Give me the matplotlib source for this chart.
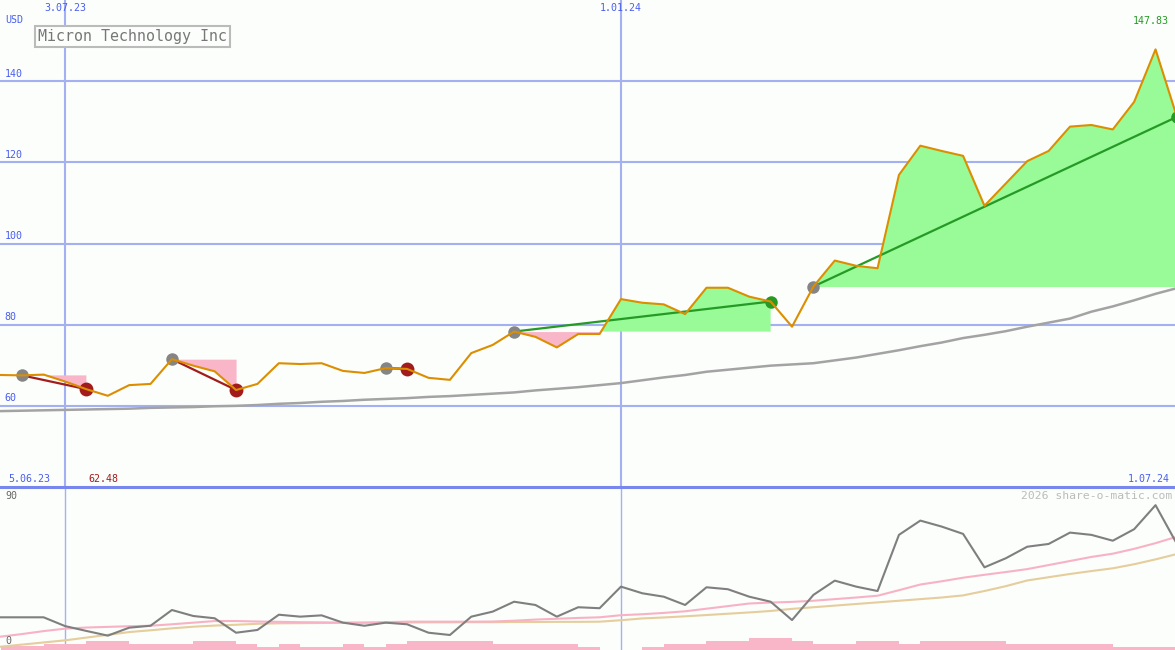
import numpy as np
import matplotlib.pyplot as plt
from matplotlib.lines import Line2D
from matplotlib.transforms import blended_transform_factory

W, H = 1175, 650

# weekly close, USD
price = [67.6, 67.5, 67.7, 66.0, 64.1, 62.48, 65.1, 65.4, 71.5, 69.9, 68.5, 63.9,
         65.4, 70.5, 70.3, 70.5, 68.6, 68.1, 69.3, 69.1, 66.9, 66.4, 73.0, 75.0,
         78.3, 77.0, 74.4, 77.7, 77.7, 86.3, 85.4, 85.0, 82.6, 89.1, 89.1, 86.9,
         85.7, 79.5, 89.4, 95.8, 94.5, 93.9, 116.9, 124.1, 122.8, 121.6, 109.3, 114.8,
         120.3, 122.8, 128.8, 129.2, 128.1, 134.9, 147.83, 131.2]
# long moving average
ma_long = [58.7, 58.8, 58.9, 59.0, 59.1, 59.2, 59.3, 59.5, 59.6, 59.7, 59.9, 60.0,
           60.2, 60.5, 60.7, 61.0, 61.2, 61.5, 61.7, 61.9, 62.2, 62.4, 62.7, 63.0,
           63.3, 63.8, 64.2, 64.6, 65.1, 65.6, 66.3, 67.0, 67.6, 68.4, 68.9, 69.4,
           69.9, 70.2, 70.5, 71.2, 71.9, 72.8, 73.7, 74.7, 75.6, 76.7, 77.5, 78.4,
           79.5, 80.5, 81.5, 83.2, 84.5, 86.0, 87.6, 89.0]
# lower panel indicator
osc = [18.3, 18.3, 18.3, 12.9, 9.9, 7.0, 11.9, 13.1, 22.8, 19.1, 17.7, 8.8,
       10.5, 19.9, 18.7, 19.5, 15.0, 13.1, 15.0, 14.0, 8.8, 7.4, 18.7, 21.8,
       27.9, 25.9, 18.7, 24.5, 23.9, 37.2, 33.1, 31.0, 25.9, 36.8, 35.6, 31.0,
       27.9, 16.6, 32.1, 40.9, 37.2, 34.5, 69.1, 77.9, 74.2, 69.7, 49.1, 54.7,
       61.8, 63.5, 70.5, 69.1, 65.5, 72.6, 87.4, 63.5]
osc_fast = [6.4, 8.0, 9.8, 11.3, 12.0, 12.4, 12.8, 13.1, 14.0, 15.0, 16.0, 16.0,
            15.7, 15.5, 15.3, 15.2, 15.0, 15.0, 15.3, 15.6, 15.6, 15.6, 15.6, 15.7,
            16.2, 16.9, 17.4, 17.9, 18.3, 19.6, 20.2, 21.0, 22.0, 23.6, 25.2, 26.8,
            27.4, 27.8, 28.5, 29.5, 30.5, 31.6, 35.0, 38.5, 40.5, 42.7, 44.5, 46.2,
            48.0, 50.5, 53.0, 55.5, 57.5, 60.5, 64.0, 68.0]
osc_slow = [0.2, 1.5, 2.8, 4.1, 5.8, 7.5, 9.2, 10.3, 11.5, 12.5, 13.2, 13.7,
            14.3, 14.6, 14.7, 14.8, 14.9, 15.0, 15.0, 15.1, 15.2, 15.2, 15.3, 15.3,
            15.4, 15.4, 15.5, 15.5, 15.6, 16.5, 17.6, 18.2, 18.9, 19.7, 20.5, 21.3,
            22.2, 23.5, 24.5, 25.5, 26.5, 27.5, 28.5, 29.5, 30.5, 31.8, 34.5, 37.5,
            41.0, 43.0, 45.0, 46.8, 48.5, 51.0, 54.0, 57.3]
volume = [1.4, 1.4, 2, 2, 3, 3, 2, 2, 2, 3, 3, 2, 1, 2, 1, 1, 2, 1, 2, 3, 3, 3, 3,
          2, 2, 2, 2, 1, 0, 0, 1, 2, 2, 3, 3, 4, 4, 3, 2, 2, 3, 3, 2, 3, 3, 3, 3,
          2, 2, 2, 2, 2, 1, 1, 1, 1]
# (entry week, exit week)
signals = [(1, 4), (8, 11), (18, 19), (24, 36), (38, 55)]
grid_levels = [60, 80, 100, 120, 140]
date_marks = [(3, '3.07.23'), (29, '1.01.24')]
start_label, end_label = '5.06.23', '1.07.24'
name = 'Micron Technology Inc'

bg = '#fbfefb'
blue_txt = '#4a5ef0'
grid_c = '#a4b0f2'
mono = 'DejaVu Sans Mono'


def fx(px):
    return px / W


def fy(py):
    return 1 - py / H


x = np.arange(len(price))
p = np.array(price)

fig = plt.figure(figsize=(11.75, 6.5), dpi=100, facecolor=bg)
ax = fig.add_axes([0, fy(487), 1, 487 / H], facecolor=bg)
ax2 = fig.add_axes([0, 0, 1, fy(487)], facecolor=bg)
for a in (ax, ax2):
    a.set_xlim(-0.04, 54.91)
    a.set_xticks([])
    a.set_yticks([])
    for s in a.spines.values():
        s.set_visible(False)
ax.set_ylim(40, 160)
ax2.set_ylim(-1.85, 98.6)

for lv in grid_levels:
    ax.axhline(lv, color=grid_c, lw=1.5, zorder=1)
for i, lab in date_marks:
    ax.axvline(i, color=grid_c, lw=1.5, zorder=1)
    ax2.axvline(i, color=grid_c, lw=1.0, zorder=1)

# signal fills
for a_, b_ in signals:
    xs = x[a_:b_ + 1]
    ys = p[a_:b_ + 1]
    lvl = p[a_]
    ax.fill_between(xs, lvl, ys, where=ys >= lvl, interpolate=True,
                    color='#98fb98', lw=0, zorder=2)
    ax.fill_between(xs, lvl, ys, where=ys <= lvl, interpolate=True,
                    color='#f9b6c9', lw=0, zorder=2)

ax.plot(x, ma_long, color='#a3a3a3', lw=1.8, zorder=3)

for a_, b_ in signals:
    win = p[b_] > p[a_]
    c = '#259a25' if win else '#a31c1c'
    ax.plot([a_, b_], [p[a_], p[b_]], color=c, lw=1.6, zorder=4)
    ax.plot(a_, p[a_], 'o', color='#858585', ms=9, mew=0, zorder=5)
    ax.plot(b_, p[b_], 'o', color=c, ms=10 if not win else 9, mew=0, zorder=5)

ax.plot(x, p, color='#dc8e00', lw=1.5, zorder=6)

# lower panel
base = ax2.get_ylim()[0]
vol = np.array(volume)
ax2.fill_between(x, base, base + vol * 1.85, step='post', color='#f9b6c9', lw=0, zorder=2)
ax2.plot(x, osc_slow, color='#e6cd9c', lw=1.5, zorder=3)
ax2.plot(x, osc_fast, color='#f8b2c6', lw=1.5, zorder=3)
ax2.plot(x, osc, color='#7f7f7f', lw=1.5, zorder=4)

fig.add_artist(Line2D([0, 1], [fy(487), fy(487)], color='#7887ee', lw=2.2))

# labels
tr = blended_transform_factory(ax.transAxes, ax.transData)
for lv in grid_levels:
    ax.text(0.004, lv + 0.6, str(lv), transform=tr, fontsize=7.2, color=blue_txt,
            family=mono, va='bottom', ha='left')
fig.text(fx(5), fy(20), 'USD', fontsize=7.2, color=blue_txt, family=mono, va='center')
for i, lab in date_marks:
    fig.text(fx(0.85 + 21.385 * i), fy(8), lab, fontsize=7.2, color=blue_txt,
             family=mono, ha='center', va='center')
imax = int(np.argmax(p))
imin = int(np.argmin(p))
fig.text(fx(0.85 + 21.385 * imax) - 0.004, fy(21), f'{p[imax]:.2f}', fontsize=7.2,
         color='#259a25', family=mono, ha='center', va='center')
fig.text(fx(8), fy(479), start_label, fontsize=7.2, color=blue_txt, family=mono, va='center')
fig.text(fx(0.85 + 21.385 * imin) - 0.004, fy(479), f'{p[imin]:.2f}', fontsize=7.2,
         color='#a31c1c', family=mono, ha='center', va='center')
fig.text(fx(1170), fy(479), end_label, fontsize=7.2, color=blue_txt, family=mono,
         ha='right', va='center')
fig.text(fx(5), fy(496), '90', fontsize=7.2, color='#666666', family=mono, va='center')
fig.text(fx(5), fy(641), '0', fontsize=7.2, color='#666666', family=mono, va='center')
fig.text(fx(1172), fy(496), '2026 share-o-matic.com', fontsize=8.2, color='#bbbbbb',
         family=mono, ha='right', va='center')

fig.text(fx(38), fy(36.5), name, fontsize=10.8, color='#777777', family=mono,
         va='center', ha='left',
         bbox=dict(boxstyle='square,pad=0.22', fc=bg, ec='#bbbbbb', lw=1.5))

fig.savefig('out.png', dpi=100, facecolor=bg)
